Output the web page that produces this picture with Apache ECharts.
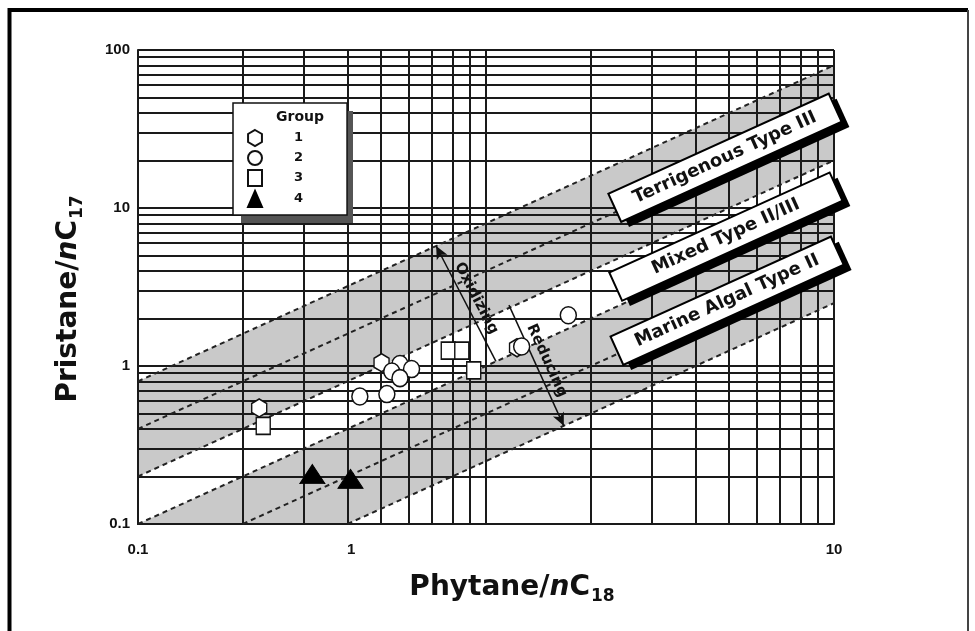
<!DOCTYPE html>
<html>
<head>
<meta charset="utf-8">
<title>Pristane/nC17 vs Phytane/nC18</title>
<script src="https://cdn.jsdelivr.net/npm/echarts@6/dist/echarts.min.js"></script>
<style>
  html, body { margin: 0; padding: 0; background: #fff; }
  #chart { width: 975px; height: 631px; }
</style>
</head>
<body>
<div id="chart"></div>
<script>
// Sample points: [Phytane/nC18, Pristane/nC17]
const groupNames = ['1', '2', '3', '4'];
const group1 = [[0.223, 0.543], [1.228, 1.304], [0.501, 1.05]];
const group2 = [[0.566, 1.03], [0.611, 0.956], [0.536, 0.923], [0.566, 0.838],
                [0.434, 0.641], [0.519, 0.664], [1.266, 1.329], [1.724, 2.096]];
const group3 = [[0.229, 0.418], [0.779, 1.252], [0.852, 1.252], [0.922, 0.939]];
const group4 = [[0.317, 0.207], [0.408, 0.193]];

// Axis ranges and tick labels
const xMin = 0.1, xMax = 10, yMin = 0.1, yMax = 100;
const xTickLabels = ['0.1', '1', '10'];
const xTickLabelAt = [0.1, 0.41, 10];
const xGridValues = [0.1, 0.2, 0.3, 0.4, 0.5, 0.6, 0.7, 0.8, 0.9, 1, 2, 3, 4, 5, 6, 7, 8, 9, 10];
const yGridValues = [0.1, 0.2, 0.3, 0.4, 0.5, 0.6, 0.7, 0.8, 0.9, 1, 2, 3, 4, 5, 6, 7, 8, 9,
                     10, 20, 30, 40, 50, 60, 70, 80, 90, 100];

// Constant Pr/Ph ratio lines and the shaded ratio bands
const ratioLines = [0.25, 0.5, 1, 2, 4, 8];
const shadedBands = [[2, 8], [0.25, 1]];

// Kerogen type boxes (centre in data space)
const typeLabels = ['Terrigenous Type III', 'Mixed Type II/III', 'Marine Algal Type II'];
const typeLabelAt = [[4.86, 20.8], [4.89, 6.59], [4.93, 2.59]];

// Redox arrows
const redoxLabels = ['Oxidizing', 'Reducing'];
const redoxArrows = [[[0.719, 5.75], [1.068, 1.07]], [[1.164, 2.43], [1.673, 0.418]]];

const WIDE = '"DejaVu Sans", sans-serif';
const SANS = '"Liberation Sans", Arial, sans-serif';
const INK = '#111';

// Clip the strip lo*x <= y <= hi*x to the plot rectangle (in log space)
function clipBand(lo, hi) {
  const a = Math.log10(lo), b = Math.log10(hi);
  const u0 = Math.log10(xMin), u1 = Math.log10(xMax);
  const v0 = Math.log10(yMin), v1 = Math.log10(yMax);
  let poly = [[u0, v0], [u1, v0], [u1, v1], [u0, v1]];
  const planes = [p => p[1] - p[0] - a, p => p[0] + b - p[1]];
  planes.forEach(f => {
    const out = [];
    for (let i = 0; i < poly.length; i++) {
      const P = poly[i], Q = poly[(i + 1) % poly.length];
      const fp = f(P), fq = f(Q);
      if (fp >= 0) out.push(P);
      if ((fp >= 0) !== (fq >= 0)) {
        const t = fp / (fp - fq);
        out.push([P[0] + t * (Q[0] - P[0]), P[1] + t * (Q[1] - P[1])]);
      }
    }
    poly = out;
  });
  return poly.map(p => [Math.pow(10, p[0]), Math.pow(10, p[1])]);
}

function ratioSegment(k) {
  const x0 = Math.max(xMin, yMin / k), x1 = Math.min(xMax, yMax / k);
  return [{ coord: [x0, x0 * k] }, { coord: [x1, x1 * k] }];
}

function nearestXLabel(v) {
  let best = 0, bd = Infinity;
  xTickLabelAt.forEach((p, i) => {
    const d = Math.abs(Math.log10(p) - Math.log10(v));
    if (d < bd) { bd = d; best = i; }
  });
  return xTickLabels[best];
}

const titleRich = {
  b: { fontFamily: WIDE, fontWeight: 'bold', fontSize: 28, color: INK },
  i: { fontFamily: WIDE, fontWeight: 'bold', fontStyle: 'italic', fontSize: 28, color: INK },
  s: { fontFamily: WIDE, fontWeight: 'bold', fontSize: 17, color: INK, padding: [18, 0, 0, 1] }
};

const hexagon = 'path://M0,-10 L8.66,-5 L8.66,5 L0,10 L-8.66,5 L-8.66,-5 Z';
const openMarker = { color: '#fff', borderColor: INK, borderWidth: 1.5, opacity: 1 };

const chart = echarts.init(document.getElementById('chart'), null, { renderer: 'canvas' });

chart.setOption({
  animation: false,
  backgroundColor: '#fff',
  grid: { left: 138, right: 141, top: 50, bottom: 107, containLabel: false, outerBoundsMode: 'none' },
  title: {
    text: 'Group', left: 276, top: 110, padding: 0, z: 10,
    textStyle: { fontFamily: WIDE, fontWeight: 'bold', fontSize: 14, color: INK }
  },
  legend: {
    orient: 'vertical', left: 233, top: 103,
    padding: [26, 44, 7, 14], itemGap: 3, itemWidth: 14, itemHeight: 16,
    selectedMode: false, data: groupNames,
    backgroundColor: '#fff', borderColor: INK, borderWidth: 1.5, borderRadius: 0,
    textStyle: { fontFamily: WIDE, fontWeight: 'bold', fontSize: 13, color: INK, padding: [0, 0, 0, 27] },
    z: 8
  },
  xAxis: {
    type: 'log', logBase: 10, min: xMin, max: xMax,
    axisLine: { show: true, lineStyle: { color: INK, width: 2 } },
    axisTick: { show: false },
    splitLine: { show: false },
    axisLabel: {
      customValues: xTickLabelAt,
      formatter: v => nearestXLabel(v),
      fontFamily: SANS, fontWeight: 'bold', fontSize: 15, color: INK, margin: 18
    },
    name: '{b|Phytane/}{i|n}{b|C}{s|18}',
    nameLocation: 'middle', nameGap: 46,
    nameTextStyle: { rich: titleRich, padding: [0, 0, 0, 52] }
  },
  yAxis: {
    type: 'log', logBase: 10, min: yMin, max: yMax,
    axisLine: { show: true, lineStyle: { color: INK, width: 2 } },
    axisTick: { show: false },
    splitLine: { show: false },
    axisLabel: {
      formatter: v => String(+v.toPrecision(3)),
      fontFamily: SANS, fontWeight: 'bold', fontSize: 15, color: INK, margin: 8
    },
    name: '{b|Pristane/}{i|n}{b|C}{s|17}',
    nameLocation: 'middle', nameGap: 52, nameRotate: 90,
    nameTextStyle: { rich: titleRich, padding: [0, 24, 0, 0] }
  },
  graphic: [
    // legend drop shadow
    { type: 'rect', z: 7, silent: true,
      shape: { x: 241, y: 111, width: 112, height: 112 },
      style: { fill: '#555' } },
    // page frame
    { type: 'polyline', z: 100, silent: true,
      shape: { points: [[9.5, 640], [9.5, 10], [968, 10]] },
      style: { fill: 'none', stroke: '#000', lineWidth: 4 } },
    { type: 'line', z: 100, silent: true,
      shape: { x1: 968, y1: 10, x2: 968, y2: 640 },
      style: { stroke: '#444', lineWidth: 2 } }
  ],
  series: [
    {
      // shaded ratio bands
      type: 'custom', name: 'bands', silent: true, z: 1,
      data: shadedBands,
      renderItem: (params, api) => {
        const pts = clipBand(api.value(0), api.value(1)).map(p => api.coord(p));
        return { type: 'polygon', shape: { points: pts }, style: { fill: '#c9c9c9' } };
      }
    },
    {
      // log grid
      type: 'line', name: 'grid', silent: true, z: 2, data: [],
      markLine: {
        silent: true, symbol: ['none', 'none'], label: { show: false },
        lineStyle: { color: '#1a1a1a', width: 2, type: 'solid' },
        emphasis: { disabled: true },
        data: xGridValues.map(v => ({ xAxis: v })).concat(yGridValues.map(v => ({ yAxis: v })))
      }
    },
    {
      // constant ratio lines
      type: 'line', name: 'ratios', silent: true, z: 3, data: [],
      markLine: {
        silent: true, symbol: ['none', 'none'], label: { show: false },
        lineStyle: { color: '#222', width: 2, type: [5, 4] },
        emphasis: { disabled: true },
        data: ratioLines.map(k => ratioSegment(k))
      }
    },
    {
      // oxidizing / reducing arrows
      type: 'line', name: 'redox', silent: true, z: 4, data: [],
      markLine: {
        silent: true, symbolSize: [9, 13],
        lineStyle: { color: INK, width: 1.5, type: 'solid' },
        emphasis: { disabled: true },
        label: {
          show: true, position: 'insideMiddleTop', formatter: '{b}', distance: 4,
          fontFamily: WIDE, fontWeight: 'bold', fontSize: 15, color: INK
        },
        data: redoxArrows.map((seg, i) => [
          { coord: seg[0], name: redoxLabels[i], symbol: i === 0 ? 'arrow' : 'none' },
          { coord: seg[1], symbol: i === 0 ? 'none' : 'arrow' }
        ])
      }
    },
    { type: 'scatter', name: groupNames[0], z: 5, symbol: hexagon, symbolSize: [15, 18],
      itemStyle: openMarker, data: group1 },
    { type: 'scatter', name: groupNames[1], z: 5, symbol: 'circle', symbolSize: [16, 17],
      itemStyle: openMarker, data: group2 },
    { type: 'scatter', name: groupNames[2], z: 5, symbol: 'rect', symbolSize: [14, 17],
      itemStyle: openMarker, data: group3 },
    { type: 'scatter', name: groupNames[3], z: 5, symbol: 'triangle', symbolSize: [25, 19],
      itemStyle: { color: '#000', borderColor: '#000', borderWidth: 1, opacity: 1 }, data: group4 },
    {
      // kerogen type boxes
      type: 'custom', name: 'types', silent: true, z: 6,
      data: typeLabelAt,
      renderItem: (params, api) => {
        const c = api.coord([api.value(0), api.value(1)]);
        const p0 = api.coord([1, 1]), p1 = api.coord([10, 10]);
        const rot = Math.atan2(p0[1] - p1[1], p1[0] - p0[0]);
        const w = 242, h = 31;
        return {
          type: 'group', x: c[0], y: c[1], rotation: rot,
          children: [
            { type: 'rect', shape: { x: -w / 2 + 5, y: -h / 2 + 8, width: w, height: h },
              style: { fill: '#000' } },
            { type: 'rect', shape: { x: -w / 2, y: -h / 2, width: w, height: h },
              style: { fill: '#fff', stroke: '#000', lineWidth: 2 } },
            { type: 'text', style: {
                text: typeLabels[params.dataIndex], x: 0, y: 0,
                align: 'center', verticalAlign: 'middle',
                fontFamily: 'DejaVu Sans', fontWeight: 'bold', fontSize: 18, fill: INK } }
          ]
        };
      }
    }
  ]
});
</script>
</body>
</html>
